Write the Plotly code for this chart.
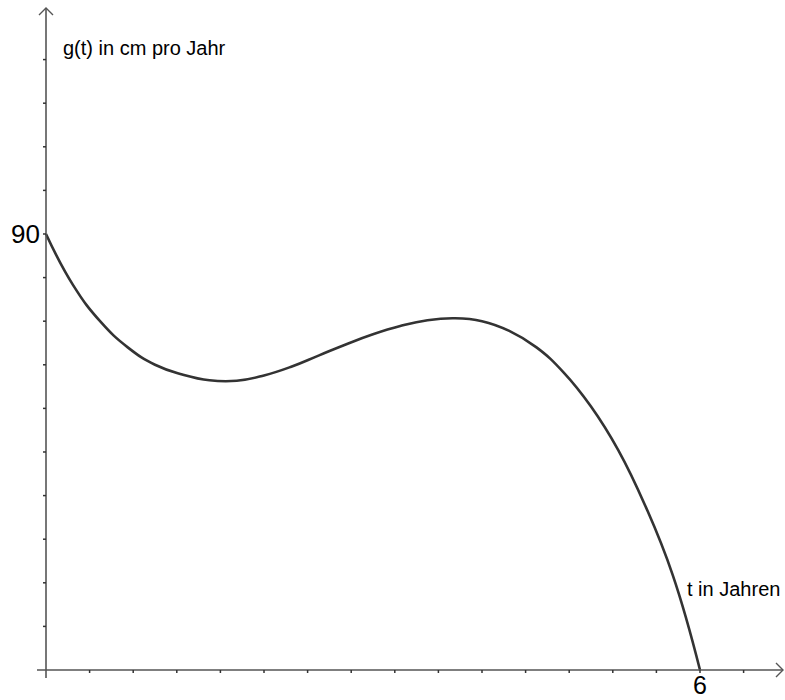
import plotly.graph_objects as go

# Data
t_vals = [0.0, 0.25, 0.5, 0.75, 1.0, 1.25, 1.5, 1.75, 2.0, 2.25, 2.5, 2.75, 3.0,
          3.25, 3.5, 3.75, 4.0, 4.25, 4.5, 4.75, 5.0, 5.25, 5.5, 5.75, 6.0]
g_vals = [90.0, 79.4, 71.9, 66.6, 63.0, 61.0, 59.8, 59.7, 60.8, 62.6, 64.9, 67.2, 69.3,
          71.0, 72.2, 72.6, 72.0, 70.0, 66.6, 61.4, 54.4, 45.4, 33.8, 19.6, 0.0]

x_ticks = [round(0.4 * i, 2) for i in range(1, 17)]
y_ticks = [9 * i for i in range(1, 15)]

y_label = "g(t) in cm pro Jahr"
x_label = "t in Jahren"
y_mark = 90
x_mark = 6

W, H = 785, 700
X_RANGE = [-0.4220, 6.7798]
Y_RANGE = [-6.193, 138.30]

def dx(px):
    return px * (X_RANGE[1] - X_RANGE[0]) / W

def dy(px):
    return px * (Y_RANGE[1] - Y_RANGE[0]) / H

axis_col = "#555555"
shapes = []
# axes lines
shapes.append(dict(type="line", x0=dx(-9), x1=X_RANGE[1] - dx(2), y0=0, y1=0,
                   line=dict(color=axis_col, width=1.6)))
shapes.append(dict(type="line", x0=0, x1=0, y0=-dy(8), y1=Y_RANGE[1] - dy(8),
                   line=dict(color=axis_col, width=1.6)))
# arrow heads
tipx = X_RANGE[1] - dx(2)
shapes.append(dict(type="path",
                   path=f"M {tipx-dx(7)} {dy(7)} L {tipx} 0 L {tipx-dx(7)} {-dy(7)}",
                   line=dict(color=axis_col, width=1.4)))
tipy = Y_RANGE[1] - dy(8)
shapes.append(dict(type="path",
                   path=f"M {-dx(7)} {tipy-dy(7)} L 0 {tipy} L {dx(7)} {tipy-dy(7)}",
                   line=dict(color=axis_col, width=1.4)))
# tick marks
for xt in x_ticks:
    shapes.append(dict(type="line", x0=xt, x1=xt, y0=0, y1=-dy(3),
                       line=dict(color="#333333", width=1.5)))
for yt in y_ticks:
    shapes.append(dict(type="line", x0=0, x1=-dx(3), y0=yt, y1=yt,
                       line=dict(color="#333333", width=1.5)))

fig = go.Figure()
fig.add_trace(go.Scatter(x=t_vals, y=g_vals, mode="lines",
                         line=dict(color="#333333", width=2.6, shape="spline", smoothing=1.3),
                         hoverinfo="skip", cliponaxis=False))

font_family = "Liberation Sans, Arial, sans-serif"
annotations = [
    dict(x=0, y=y_mark, text=str(y_mark), xanchor="right", yanchor="middle",
         xshift=-4, showarrow=False, font=dict(size=26, color="black", family=font_family)),
    dict(x=x_mark, y=0, yref="paper", text=str(x_mark), xanchor="center", yanchor="bottom",
         borderpad=0, showarrow=False, font=dict(size=25, color="black", family=font_family)),
    dict(x=dx(15), y=dy(622), text=y_label, xanchor="left", yanchor="middle",
         showarrow=False, font=dict(size=20, color="black", family=font_family)),
    dict(x=dx(639), y=dy(81), text=x_label, xanchor="left", yanchor="middle",
         showarrow=False, font=dict(size=20, color="black", family=font_family)),
]

fig.update_layout(
    width=W, height=H,
    margin=dict(l=0, r=0, t=0, b=0),
    paper_bgcolor="white", plot_bgcolor="white",
    showlegend=False,
    xaxis=dict(range=X_RANGE, visible=False, fixedrange=True),
    yaxis=dict(range=Y_RANGE, visible=False, fixedrange=True),
    shapes=shapes,
    annotations=annotations,
)

fig.write_html("out.html", config={"displayModeBar": False},
               post_script="document.body.style.margin='0';document.body.style.overflow='hidden';")
